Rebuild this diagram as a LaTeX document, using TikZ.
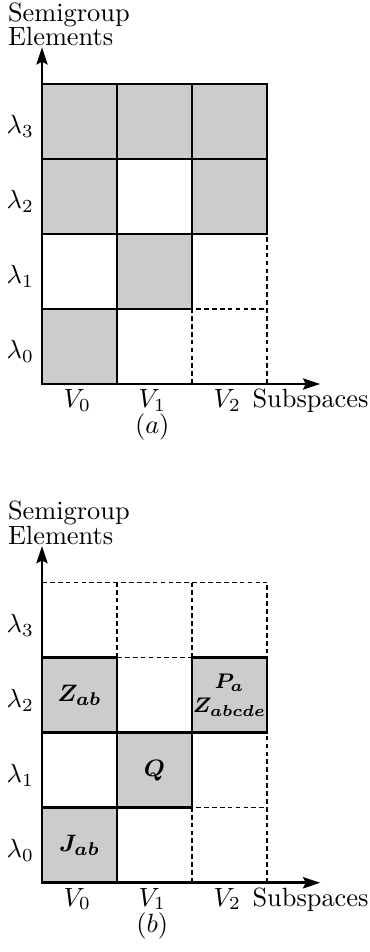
\documentclass[tikz,border=0pt]{standalone}
\usepackage{bm}
\usetikzlibrary{arrows.meta,positioning}

\begin{document}
\begin{tikzpicture}[font=\fontsize{10}{9.2}\selectfont,
  cell/.style={draw,line width=1.1pt,fill=gray!40,minimum size=1cm,inner sep=0,outer sep=0,align=center,font=\fontsize{9.3}{10}\selectfont},
  grd/.style={line width=.5pt,dash pattern=on 1.8pt off 1.2pt},
  ax/.style={line width=1.1pt,{Stealth[length=6.5pt,width=4.2pt,inset=1pt]}-{Stealth[length=6.5pt,width=4.2pt,inset=1pt]}}]
\useasboundingbox(-.56,-7.573)rectangle(4.373,5.12);
% (a)
\draw[grd](2,0)--(2,1)--(3,1);\draw[grd](3,0)--(3,2);
\node[cell](a03)at(.5,3.5){};\node[cell](a13)at(1.5,3.5){};\node[cell](a23)at(2.5,3.5){};
\node[cell](a02)at(.5,2.5){};\node[cell](a22)at(2.5,2.5){};
\node[cell](a11)at(1.5,1.5){};\node[cell](a00)at(.5,.5){};
\coordinate(oa)at(0,0);\coordinate(xa)at(3.71,0);\coordinate(ya)at(0,4.49);
\draw[ax](ya)--(oa)--(xa);
\node[align=left,anchor=west,inner sep=0](sga)at(-.46,4.8){Semigroup\\Elements};
\node(la3)at(-.29,3.43){$\lambda_3$};\node(la2)at(-.29,2.43){$\lambda_2$};\node(la1)at(-.29,1.43){$\lambda_1$};\node(la0)at(-.29,.43){$\lambda_0$};
\node[anchor=base](va0)at(.47,-.31){$V_0$};\node[anchor=base](va1)at(1.47,-.31){$V_1$};\node[anchor=base](va2)at(2.47,-.31){$V_2$};
\node[anchor=base west,inner sep=0](ssa)at(2.8,-.31){Subspaces};
\node[anchor=base](capa)at(1.47,-.66){$(a)$};
% (b)
\begin{scope}[yshift=-6.65cm]
\draw[grd](0,4)--(3,4);\draw[grd](1,3)--(1,4);\draw[grd](2,3)--(2,4);\draw[grd](1,3)--(2,3);
\draw[grd](3,0)--(3,4);\draw[grd](2,0)--(2,1)--(3,1);
\node[cell](b02)at(.5,2.5){$\bm{Z_{ab}}$};
\node[cell,text width=1cm,font=\fontsize{8.2}{10}\selectfont](b22)at(2.5,2.5){$\bm{P_a}$\\[-1pt]$\bm{Z_{abcde}}$};
\node[cell](b11)at(1.5,1.5){$\bm{Q}$};\node[cell](b00)at(.5,.5){$\bm{J_{ab}}$};
\coordinate(ob)at(0,0);\coordinate(xb)at(3.71,0);\coordinate(yb)at(0,4.49);
\draw[ax](yb)--(ob)--(xb);
\node[align=left,anchor=west,inner sep=0](sgb)at(-.46,4.8){Semigroup\\Elements};
\node(lb3)at(-.29,3.43){$\lambda_3$};\node(lb2)at(-.29,2.43){$\lambda_2$};\node(lb1)at(-.29,1.43){$\lambda_1$};\node(lb0)at(-.29,.43){$\lambda_0$};
\node[anchor=base](vb0)at(.47,-.31){$V_0$};\node[anchor=base](vb1)at(1.47,-.31){$V_1$};\node[anchor=base](vb2)at(2.47,-.31){$V_2$};
\node[anchor=base west,inner sep=0](ssb)at(2.8,-.31){Subspaces};
\node[anchor=base](capb)at(1.47,-.66){$(b)$};
\end{scope}
\end{tikzpicture}
\end{document}
